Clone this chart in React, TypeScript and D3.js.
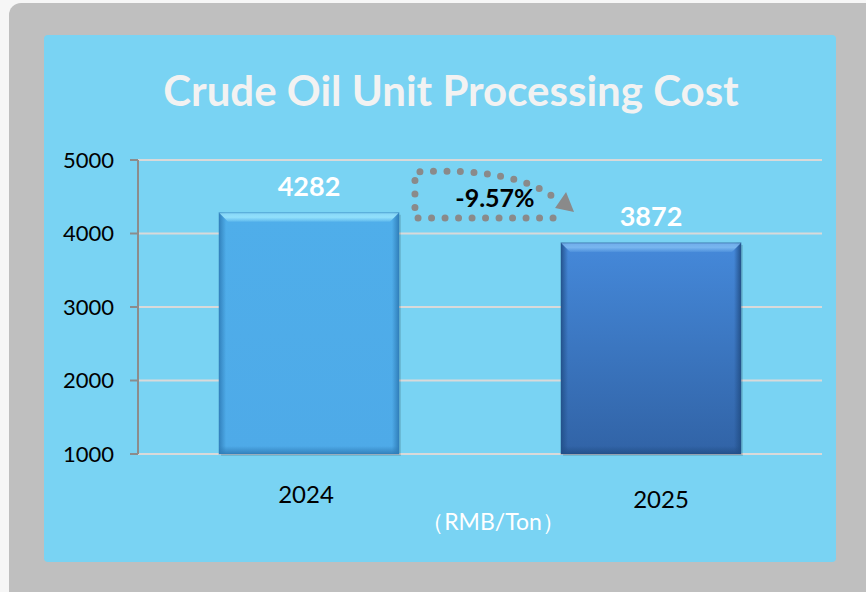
import React from 'react';
import * as d3 from 'd3';

const categories = ['2024', '2025'];
const values = [4282, 3872];
const yTicks = [1000, 2000, 3000, 4000, 5000];
const titleText = 'Crude Oil Unit Processing Cost';
const unitLabel = '（RMB/Ton）';
const changeLabel = '-9.57%';

const W = 866;
const H = 592;
const FONT = 'Lato, "Open Sans", sans-serif';

export default function App() {
  const x = d3
    .scaleBand<string>()
    .domain(categories)
    .range([138, 822])
    .paddingInner(0.474)
    .paddingOuter(0.237);
  const y = d3.scaleLinear().domain([1000, 5000]).range([454, 160]);
  const bw = x.bandwidth();

  const x1 = x(categories[0])!;
  const x2 = x(categories[1])!;
  const left = x1 + bw + 16;
  const right = x2 - 8;
  const topY = 172;
  const botY = 218;
  const arrowPath = `M ${right},${botY} L ${left},${botY} L ${left},${topY} C ${left + 65},${topY - 4} ${left + 115},${topY + 6} ${right + 3},${topY + 27}`;
  const tip = [right + 21, topY + 40];

  const barStyles = [
    { top: '#4FAEEA', bottom: '#4EAAE8', bevel: '#92E0FB', edge: '#2F7DB8' },
    { top: '#4589DA', bottom: '#3163A6', bevel: '#79B6EF', edge: '#224F88' },
  ];

  return (
    <svg
      width={W}
      height={H}
      style={{ position: 'absolute', left: 0, top: 0, display: 'block' }}
      fontFamily={FONT}
    >
      <defs>
        {barStyles.map((s, i) => (
          <React.Fragment key={i}>
            <linearGradient id={`fill${i}`} x1="0" y1="0" x2="0" y2="1">
              <stop offset="0" stopColor={s.top} />
              <stop offset="1" stopColor={s.bottom} />
            </linearGradient>
            <linearGradient id={`edgeL${i}`} x1="0" y1="0" x2="1" y2="0">
              <stop offset="0" stopColor={s.edge} stopOpacity={0.9} />
              <stop offset="1" stopColor={s.edge} stopOpacity={0} />
            </linearGradient>
            <linearGradient id={`edgeR${i}`} x1="1" y1="0" x2="0" y2="0">
              <stop offset="0" stopColor={s.edge} stopOpacity={0.95} />
              <stop offset="1" stopColor={s.edge} stopOpacity={0} />
            </linearGradient>
            <linearGradient id={`edgeB${i}`} x1="0" y1="1" x2="0" y2="0">
              <stop offset="0" stopColor={s.edge} stopOpacity={0.9} />
              <stop offset="1" stopColor={s.edge} stopOpacity={0} />
            </linearGradient>
            <linearGradient id={`bevel${i}`} x1="0" y1="0" x2="0" y2="1">
              <stop offset="0" stopColor={s.bevel} stopOpacity={0.8} />
              <stop offset="0.5" stopColor={s.bevel} stopOpacity={1} />
              <stop offset="1" stopColor={s.bevel} stopOpacity={0.2} />
            </linearGradient>
          </React.Fragment>
        ))}
        <filter id="soft" x="-10%" y="-10%" width="120%" height="120%">
          <feGaussianBlur stdDeviation="0.7" />
        </filter>
      </defs>

      {/* page background */}
      <rect x={0} y={0} width={W} height={H} fill="#F6F6F6" />
      {/* gray frame */}
      <rect x={9} y={3} width={W + 20} height={H + 20} rx={12} fill="#BFBFBF" />
      {/* blue panel */}
      <rect x={44} y={35} width={792} height={527} rx={4} fill="#79D3F3" />

      {/* title */}
      <text
        x={451}
        y={106}
        textAnchor="middle"
        fontSize={42}
        fontWeight="bold"
        fill="#F2F2F2"
      >
        {titleText}
      </text>

      {/* gridlines */}
      {yTicks.map((t) => (
        <line
          key={t}
          x1={138}
          x2={822}
          y1={y(t)}
          y2={y(t)}
          stroke="#D9D9D9"
          strokeWidth={2}
        />
      ))}

      {/* y axis */}
      <line x1={138} x2={138} y1={y(5000)} y2={y(1000)} stroke="#8C8C8C" strokeWidth={2} />
      {yTicks.map((t) => (
        <g key={t}>
          <line x1={130} x2={138} y1={y(t)} y2={y(t)} stroke="#8C8C8C" strokeWidth={2} />
          <text
            x={114}
            y={y(t)}
            dy="0.36em"
            textAnchor="end"
            fontSize={22}
            fill="#000"
          >
            {t}
          </text>
        </g>
      ))}

      {/* bars */}
      {categories.map((c, i) => {
        const bx = x(c)!;
        const by = y(values[i]);
        const bh = y(1000) - by;
        const bev = 9;
        return (
          <g key={c}>
            <rect x={bx + 2} y={by + 2} width={bw} height={bh} fill="#000" opacity={0.12} filter="url(#soft)" />
            <rect x={bx} y={by} width={bw} height={bh} fill={`url(#fill${i})`} />
            <rect x={bx} y={by} width={7} height={bh} fill={`url(#edgeL${i})`} />
            <rect x={bx + bw - 7} y={by} width={7} height={bh} fill={`url(#edgeR${i})`} />
            <rect x={bx} y={by + bh - 8} width={bw} height={8} fill={`url(#edgeB${i})`} />
            <polygon
              points={`${bx},${by} ${bx + bw},${by} ${bx + bw - bev},${by + bev} ${bx + bev},${by + bev}`}
              fill={`url(#bevel${i})`}
            />
            <rect x={bx} y={by} width={bw} height={bh} fill="none" stroke={barStyles[i].edge} strokeOpacity={0.5} strokeWidth={1} />
            <text
              x={bx + bw / 2}
              y={by - 17}
              textAnchor="middle"
              fontSize={27}
              fontWeight="bold"
              fill="#FFFFFF"
            >
              {values[i]}
            </text>
          </g>
        );
      })}

      {/* x labels */}
      {categories.map((c, i) => (
        <text
          key={c}
          x={x(c)! + bw / 2 + (i === 0 ? -3 : 10)}
          y={i === 0 ? 503 : 508}
          textAnchor="middle"
          fontSize={24}
          fill="#000"
        >
          {c}
        </text>
      ))}

      {/* unit */}
      <text x={493} y={530} textAnchor="middle" fontSize={23} fill="#FFFFFF">
        {unitLabel}
      </text>

      {/* change arrow */}
      <g filter="url(#soft)">
        <path
          d={arrowPath}
          fill="none"
          stroke="#8A8A8A"
          strokeWidth={7}
          strokeLinecap="round"
          strokeDasharray="0 13.5"
        />
        <polygon
          points={`${tip[0]},${tip[1]} ${tip[0] - 19},${tip[1] - 4} ${tip[0] - 8},${tip[1] - 20}`}
          fill="#8A8A8A"
        />
      </g>
      <text
        x={495}
        y={207}
        textAnchor="middle"
        fontSize={25}
        fontWeight="bold"
        fill="#000"
      >
        {changeLabel}
      </text>
    </svg>
  );
}
